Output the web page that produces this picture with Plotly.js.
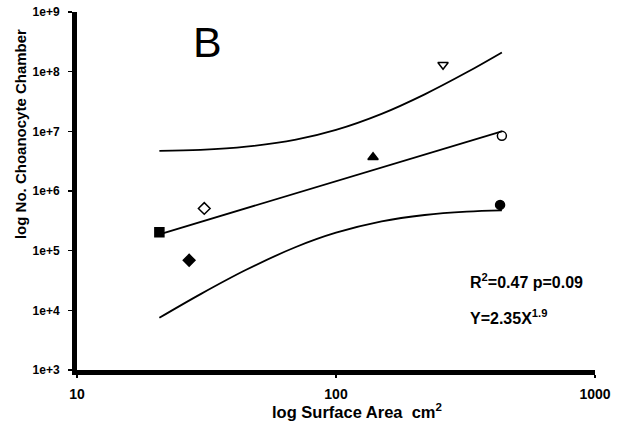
<!DOCTYPE html>
<html>
<head>
<meta charset="utf-8">
<script src="https://cdn.plot.ly/plotly-3.0.1.min.js"></script>
<style>html,body{margin:0;padding:0;background:#fff;}#chart{width:619px;height:423px;}</style>
</head>
<body>
<div id="chart"></div>
<script>
// Observed specimens: surface area (cm2) vs number of choanocyte chambers
const surfaceArea = [20.8, 31.0, 27.1, 139, 259, 437, 430];
const chambers = [2.04e5, 5.1e5, 6.9e4, 3.69e6, 1.31e8, 8.4e6, 5.85e5];
const symbols = ['square', 'diamond-open', 'diamond', 'triangle-up', 'triangle-down-open', 'circle-open', 'circle'];

// Fitted line and confidence band
const curveX = [20.8, 30, 45, 70, 100, 150, 220, 320, 437];
const fitY = [1.88e5, 3.03e5, 5.14e5, 9.14e5, 1.455e6, 2.47e6, 4.06e6, 6.62e6, 9.98e6];
const upperY = [4.71e6, 4.90e6, 5.53e6, 7.26e6, 1.057e7, 1.963e7, 4.17e7, 9.75e7, 2.10e8];
const lowerY = [7.50e3, 1.87e4, 4.78e4, 1.151e5, 2.00e5, 3.10e5, 3.96e5, 4.50e5, 4.73e5];

const yTickVals = [1e3, 1e4, 1e5, 1e6, 1e7, 1e8, 1e9];
const yTickText = ['1e+3', '1e+4', '1e+5', '1e+6', '1e+7', '1e+8', '1e+9'];
const xTickVals = [10, 100, 1000];
const xTickText = ['10', '100', '1000'];

const lineStyle = {color: '#000', width: 1.8, shape: 'spline'};
const traces = [
  {x: curveX, y: upperY, mode: 'lines', line: lineStyle, hoverinfo: 'skip'},
  {x: curveX, y: fitY, mode: 'lines', line: {color: '#000', width: 1.8}, hoverinfo: 'skip'},
  {x: curveX, y: lowerY, mode: 'lines', line: lineStyle, hoverinfo: 'skip'},
  {x: surfaceArea, y: chambers, mode: 'markers',
   marker: {symbol: symbols, size: 9, color: '#000', line: {color: '#000', width: 1.5}}}
];

const fam = 'Liberation Sans, Arial, sans-serif';
const layout = {
  width: 619, height: 423,
  margin: {l: 77, r: 24, t: 12, b: 53},
  paper_bgcolor: '#fff', plot_bgcolor: '#fff',
  showlegend: false,
  font: {family: fam, color: '#000'},
  xaxis: {
    type: 'log', range: [1, 3],
    tickvals: xTickVals, ticktext: xTickText,
    ticks: 'outside', ticklen: 3, tickwidth: 1.5, tickcolor: '#000',
    ticklabelstandoff: 4,
    showgrid: false, zeroline: false,
    showline: true, linewidth: 5, linecolor: '#000',
    tickfont: {family: fam, size: 14, color: '#000', weight: 'bold'}
  },
  yaxis: {
    type: 'log', range: [3, 9],
    tickvals: yTickVals, ticktext: yTickText,
    ticks: 'outside', ticklen: 4, tickwidth: 1.5, tickcolor: '#000',
    ticklabelstandoff: 6,
    showgrid: false, zeroline: false,
    showline: true, linewidth: 5, linecolor: '#000',
    tickfont: {family: fam, size: 12, color: '#000', weight: 'bold'}
  },
  annotations: [
    {xref: 'paper', yref: 'paper', x: -0.110, y: 0.659, xanchor: 'center', yanchor: 'middle', textangle: -90,
     text: 'log No. Choanocyte Chamber', showarrow: false,
     font: {family: fam, size: 15, color: '#000', weight: 'bold'}},
    {xref: 'paper', yref: 'paper', x: 0.5405, y: -0.1145, xanchor: 'center', yanchor: 'middle',
     text: 'log Surface Area  cm<sup>2</sup>', showarrow: false,
     font: {family: fam, size: 16.5, color: '#000', weight: 'bold'}},
    {xref: 'paper', yref: 'paper', x: 0.251, y: 0.916, xanchor: 'center', yanchor: 'middle', text: 'B', showarrow: false,
     font: {family: fam, size: 43, color: '#000'}},
    {xref: 'paper', yref: 'paper', x: 0.755, y: 0.25, xanchor: 'left', yanchor: 'middle', text: 'R<sup>2</sup>=0.47 p=0.09', showarrow: false,
     font: {family: fam, size: 16, color: '#000', weight: 'bold'}},
    {xref: 'paper', yref: 'paper', x: 0.755, y: 0.148, xanchor: 'left', yanchor: 'middle', text: 'Y=2.35X<sup>1.9</sup>', showarrow: false,
     font: {family: fam, size: 16, color: '#000', weight: 'bold'}}
  ]
};

Plotly.newPlot('chart', traces, layout, {displayModeBar: false, staticPlot: true});
</script>
</body>
</html>
